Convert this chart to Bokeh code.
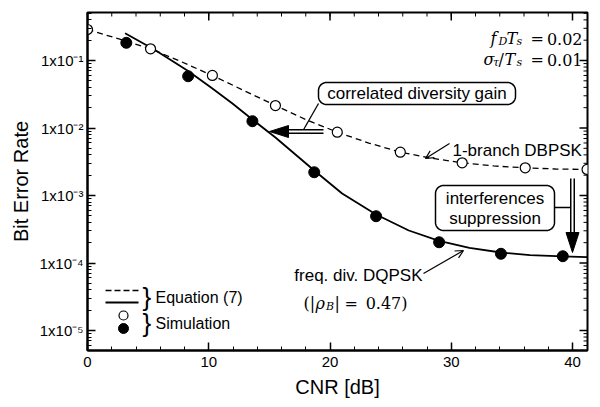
import math
import numpy as np
from bokeh.plotting import figure
from bokeh.models import (Range1d, FixedTicker, Label, CustomJSTickFormatter, Arrow, OpenHead)
from bokeh.embed import file_html
from bokeh.resources import INLINE

# ---------------- data ----------------
cnr_dbpsk_sim = [0.0, 5.2, 10.3, 15.5, 20.6, 25.8, 30.9, 36.1, 41.2]
ber_dbpsk_sim = [0.288, 0.149, 0.060, 0.0215, 0.00867, 0.00438, 0.00305, 0.00257, 0.00243]

cnr_dqpsk_sim = [3.2, 8.3, 13.6, 18.7, 23.8, 29.0, 34.1, 39.2]
ber_dqpsk_sim = [0.183, 0.0585, 0.0126, 0.00221, 0.000493, 0.000203, 0.000137, 0.000126]

cnr_dbpsk_eq = [0.0, 2.6, 5.2, 7.7, 10.3, 12.9, 15.5, 18.0, 20.6, 23.2, 25.8, 28.3,
                30.9, 33.5, 36.1, 38.6, 41.2]
ber_dbpsk_eq = [0.2879, 0.2083, 0.1491, 0.0966, 0.0599, 0.0359, 0.02154, 0.01336,
                0.00867, 0.00599, 0.00438, 0.00359, 0.00305, 0.00274, 0.00257,
                0.00247, 0.00243]

cnr_dqpsk_eq = [3.1, 5.5, 8.3, 10.3, 11.9, 13.6, 15.5, 18.7, 21.0, 23.8, 26.5, 29.0,
                31.5, 34.1, 36.5, 39.2, 41.2]
ber_dqpsk_eq = [0.2538, 0.1455, 0.0700, 0.0386, 0.0235, 0.01336, 0.00723, 0.002347,
                0.00107, 0.000523, 0.000303, 0.000212, 0.000167, 0.000143, 0.000131,
                0.000125, 0.000122]

x_major_ticks = [0, 10, 20, 30, 40]
x_minor_ticks = list(range(0, 42, 2))
y_major_ticks = [1e-5, 1e-4, 1e-3, 1e-2, 1e-1]
y_minor_ticks = [m * 10.0 ** e for e in range(-6, 0) for m in range(2, 10)]

# ---------------- layout helpers (pixel -> data for annotations) ----------------
X0, XS = 87.0, 12.125
def dx(px):
    return (px - X0) / XS
def dy(py):
    return 10 ** (-1 - (py - 60.0) / 67.5)

SANS = "Liberation Sans"
SERIF = "DejaVu Serif"

XMIN, XMAX = 0.0, dx(587)
YMIN, YMAX = dy(350), dy(12)

p = figure(width=600, height=407, output_backend="svg", toolbar_location=None,
           y_axis_type="log",
           x_range=Range1d(XMIN, XMAX), y_range=Range1d(YMIN, YMAX),
           min_border_left=87, min_border_right=13, min_border_top=12,
           min_border_bottom=57)
p.background_fill_color = "white"
p.border_fill_color = "white"
p.outline_line_color = "black"
p.outline_line_width = 2
p.xgrid.visible = False
p.ygrid.visible = False

xticker = FixedTicker(ticks=x_major_ticks, minor_ticks=x_minor_ticks)
yticker = FixedTicker(ticks=y_major_ticks, minor_ticks=y_minor_ticks)

yfmt = CustomJSTickFormatter(code="""
const e = Math.round(Math.log10(tick));
const sup = {'-':'\u207b','0':'\u2070','1':'\u00b9','2':'\u00b2','3':'\u00b3','4':'\u2074',
             '5':'\u2075','6':'\u2076','7':'\u2077','8':'\u2078','9':'\u2079'};
return '1x10' + String(e).split('').map(c => sup[c]).join('');
""")

def style_axis(ax):
    ax.axis_line_width = 2
    ax.axis_line_color = "black"
    ax.major_tick_in = 8
    ax.major_tick_out = 0
    ax.minor_tick_in = 4
    ax.minor_tick_out = 0
    ax.major_tick_line_width = 1.5
    ax.minor_tick_line_width = 1
    ax.major_tick_line_color = "black"
    ax.minor_tick_line_color = "black"

xa = p.xaxis[0]
xa.ticker = xticker
style_axis(xa)
xa.major_label_text_font = SANS
xa.major_label_text_font_size = "15px"
xa.major_label_text_color = "black"
xa.major_label_standoff = 6
xa.axis_label = "CNR [dB]"
xa.axis_label_text_font = SANS
xa.axis_label_text_font_size = "20px"
xa.axis_label_text_font_style = "normal"
xa.axis_label_text_color = "black"
xa.axis_label_standoff = 6

ya = p.yaxis[0]
ya.ticker = yticker
ya.formatter = yfmt
style_axis(ya)
ya.major_label_text_font = SANS
ya.major_label_text_font_size = "15px"
ya.major_label_text_color = "black"
ya.major_label_standoff = 4
ya.axis_label = "Bit Error Rate"
ya.axis_label_text_font = SANS
ya.axis_label_text_font_size = "20px"
ya.axis_label_text_font_style = "normal"
ya.axis_label_text_color = "black"
ya.axis_label_standoff = 5

# mirrored inward ticks on the top and right frame edges
p.ray(x=x_minor_ticks, y=[YMAX] * len(x_minor_ticks), length=4, length_units="screen",
      angle=-math.pi / 2, line_color="black", line_width=1)
p.ray(x=x_major_ticks, y=[YMAX] * len(x_major_ticks), length=8, length_units="screen",
      angle=-math.pi / 2, line_color="black", line_width=1.5)
ymt = [t for t in y_minor_ticks if YMIN <= t <= YMAX]
p.ray(x=[XMAX] * len(ymt), y=ymt, length=4, length_units="screen",
      angle=math.pi, line_color="black", line_width=1)
p.ray(x=[XMAX] * len(y_major_ticks), y=y_major_ticks, length=8, length_units="screen",
      angle=math.pi, line_color="black", line_width=1.5)

# ---------------- curves and points ----------------
p.line(cnr_dbpsk_eq, ber_dbpsk_eq, line_color="black", line_width=1.3, line_dash="6 4")
p.line(cnr_dqpsk_eq, ber_dqpsk_eq, line_color="black", line_width=1.8)
p.scatter(cnr_dbpsk_sim, ber_dbpsk_sim, marker="circle", size=10, fill_color="white",
          line_color="black", line_width=1.2)
p.scatter(cnr_dqpsk_sim, ber_dqpsk_sim, marker="circle", size=11, fill_color="black",
          line_color="black")

# ---------------- annotations ----------------
def lab(px, py, text, size="17px", font=SANS, style="normal", align="left",
        baseline="middle"):
    p.add_layout(Label(x=dx(px), y=dy(py), text=text, text_font=font,
                       text_font_size=size, text_font_style=style,
                       text_align=align, text_baseline=baseline,
                       text_color="black"))

def seg(x1, y1, x2, y2, **kw):
    p.line([dx(x1), dx(x2)], [dy(y1), dy(y2)], line_color="black", **kw)

def tri(pts):
    p.patch([dx(a) for a, b in pts], [dy(b) for a, b in pts], fill_color="black",
            line_color="black", line_width=1)

def rbox(x1, y1, x2, y2, r=8):
    xs, ys = [], []
    for cx, cy, a0 in [(x2 - r, y1 + r, -90), (x2 - r, y2 - r, 0),
                       (x1 + r, y2 - r, 90), (x1 + r, y1 + r, 180)]:
        for a in np.linspace(a0, a0 + 90, 10):
            xs.append(dx(cx + r * math.cos(math.radians(a))))
            ys.append(dy(cy + r * math.sin(math.radians(a))))
    p.patch(xs, ys, fill_color="white", line_color="black", line_width=1.5)

# correlated diversity gain box + double arrow
seg(318, 103, 302, 131, line_width=1.3)
seg(287, 131, 323, 131, line_width=5)
p.line([dx(286), dx(324)], [dy(131), dy(131)], line_color="white", line_width=2)
tri([(269, 131), (288, 125), (288, 137)])
rbox(318, 82, 515, 104)
lab(416.5, 93, "correlated diversity gain", align="center")

# 1-branch DBPSK
lab(452, 150, "1-branch DBPSK")
p.add_layout(Arrow(x_start=dx(449), y_start=dy(143), x_end=dx(425), y_end=dy(158),
                   line_color="black", line_width=1.2,
                   end=OpenHead(size=8, line_width=1.2, line_color="black")))

# interferences suppression box + vertical double arrow
seg(554, 207, 571, 207, line_width=1.3)
seg(572, 178, 572, 233, line_width=5)
p.line([dx(572), dx(572)], [dy(177), dy(234)], line_color="white", line_width=2)
tri([(572, 252), (565.5, 232), (578.5, 232)])
rbox(435, 185, 554, 230)
lab(494.5, 198, "interferences", align="center")
lab(494.5, 218, "suppression", align="center")

# freq. div. DQPSK
lab(422, 275, "freq. div. DQPSK", align="right")
p.add_layout(Arrow(x_start=dx(423), y_start=dy(273), x_end=dx(463), y_end=dy(250),
                   line_color="black", line_width=1.2,
                   end=OpenHead(size=8, line_width=1.2, line_color="black")))
# (|rho_B| = 0.47)
lab(303, 303, "(|", size="16px", font=SERIF, baseline="alphabetic")
lab(315, 303, "\u03c1", size="16px", font=SERIF, style="italic", baseline="alphabetic")
lab(325.5, 306, "B", size="11px", font=SERIF, style="italic", baseline="alphabetic")
lab(334, 303, "|", size="16px", font=SERIF, baseline="alphabetic")
lab(344, 303, "=", size="16px", font=SERIF, baseline="alphabetic")
lab(407, 303, "0.47)", size="16px", font=SERIF, align="right", baseline="alphabetic")

# f_D T_s = 0.02 ; sigma_tau / T_s = 0.01
B1, B2 = 38, 59
lab(490, B1, "f", size="16px", font=SERIF, style="italic", baseline="alphabetic")
lab(498, B1 + 3, "D", size="11px", font=SERIF, style="italic", baseline="alphabetic")
lab(506, B1, "T", size="16px", font=SERIF, style="italic", baseline="alphabetic")
lab(516, B1 + 3, "s", size="11px", font=SERIF, style="italic", baseline="alphabetic")
lab(530, B1, "=", size="16px", font=SERIF, baseline="alphabetic")
lab(582, B1, "0.02", size="16px", font=SERIF, align="right", baseline="alphabetic")

lab(483, B2, "\u03c3", size="16px", font=SERIF, style="italic", baseline="alphabetic")
lab(492.5, B2 + 3, "\u03c4", size="11px", font=SERIF, style="italic", baseline="alphabetic")
lab(498, B2, "/", size="16px", font=SERIF, baseline="alphabetic")
lab(504, B2, "T", size="16px", font=SERIF, style="italic", baseline="alphabetic")
lab(516, B2 + 3, "s", size="11px", font=SERIF, style="italic", baseline="alphabetic")
lab(530, B2, "=", size="16px", font=SERIF, baseline="alphabetic")
lab(582, B2, "0.01", size="16px", font=SERIF, align="right", baseline="alphabetic")

# legend (custom, with braces)
seg(105, 290, 138, 290, line_width=1.3, line_dash="6 3")
seg(105, 302, 138, 302, line_width=1.8)
p.scatter([dx(123)], [dy(315)], marker="circle", size=9, fill_color="white",
          line_color="black", line_width=1.2)
p.scatter([dx(123)], [dy(328)], marker="circle", size=10, fill_color="black",
          line_color="black")
lab(142, 296, "}", size="26px", font=SANS)
lab(142, 322, "}", size="26px", font=SANS)
lab(155, 297, "Equation (7)", size="16px")
lab(155, 323, "Simulation", size="16px")

open("out.html", "w").write(file_html(p, INLINE))
